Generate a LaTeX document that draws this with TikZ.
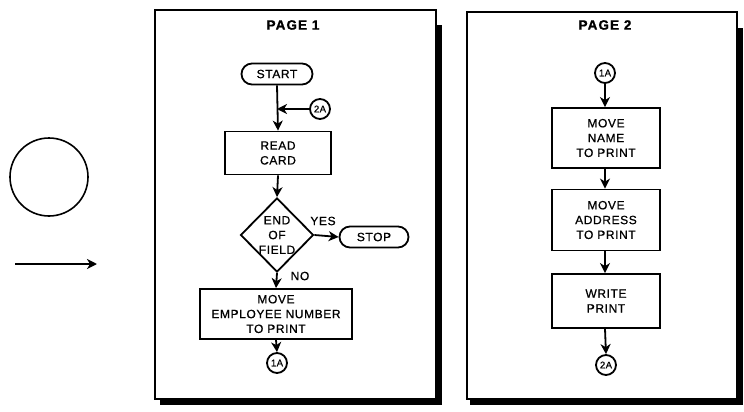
\documentclass[tikz,border=0pt]{standalone}
\usepackage{fontspec}
\setmainfont{Liberation Sans}[LetterSpace=5, FakeBold=0.8, BoldFeatures={FakeBold=1.2, LetterSpace=8}]
\usetikzlibrary{shapes.geometric,shapes.misc,arrows.meta}
\begin{document}
\begin{tikzpicture}[x=1pt,y=-1pt, line width=1.8pt,
  font=\fontsize{12}{14.8}\selectfont,
  proc/.style={draw, rectangle, align=center, inner sep=0pt, fill=white},
  term/.style={draw, rounded rectangle, inner sep=0pt, minimum height=21pt},
  conn/.style={draw, circle, minimum size=20pt, inner sep=0pt, font=\fontsize{9.5}{10}\selectfont},
  flow/.style={-{Stealth[length=10pt,width=10pt,inset=3pt]}},
  shadowbar/.style={fill=black, draw=none},
  frame/.style={draw, fill=white, line width=1.8pt},
  title/.style={font=\bfseries\fontsize{13.5}{15}\selectfont}]
\path[use as bounding box, fill=white] (0,0) rectangle (744,412);

% left legend
\node[draw, circle, minimum size=78pt, inner sep=0pt, line width=1.6pt] (legc) at (49,177) {};
\coordinate (la) at (15,264);
\coordinate (lb) at (97,264);
\draw[flow] (la) -- (lb);

% page 1 frame
\fill[shadowbar] (436,25) rectangle (442,405);
\fill[shadowbar] (160,399) rectangle (442,405);
\path[frame] (155,10) rectangle (436,399);
\node[title] (t1) at (293,25) {PAGE 1};

\node[term, minimum width=71pt] (start) at (277,74) {START};
\node[conn] (c2a) at (320,109) {2A};
\coordinate (j) at (277,109);
\node[proc, minimum width=106pt, minimum height=43pt] (read) at (278,153) {READ\\CARD};
\node[draw, diamond, minimum width=73pt, minimum height=74pt, inner sep=0pt] (dia) at (277,235) {};
\node[align=center, inner sep=0pt] (diat) at (277,235) {END\\OF\\FIELD};
\node[term, minimum width=69pt] (stop) at (374,237) {STOP};
\node[inner sep=0pt] (yes) at (323,221) {YES};
\node[inner sep=0pt] (no) at (300,276) {NO};
\node[proc, minimum width=152pt, minimum height=50pt] (emp) at (276,314) {MOVE\\EMPLOYEE NUMBER\\TO PRINT};
\node[conn] (c1a) at (277,363) {1A};

\draw[flow] (start.south) -- (read.north);
\draw[flow] (c2a.west) -- (j);
\draw[flow] (read.south) -- (dia.north);
\draw[flow] (dia.east) -- (stop.west);
\draw[flow] (dia.south) -- (emp.north);
\draw[flow] (emp.south) -- (c1a.north);

% page 2 frame
\fill[shadowbar] (737,28) rectangle (743,405);
\fill[shadowbar] (470,399) rectangle (743,405);
\path[frame] (467,12) rectangle (737,399);
\node[title] (t2) at (605,25) {PAGE 2};

\node[conn] (p1a) at (605,73) {1A};
\node[proc, minimum width=108pt, minimum height=60pt] (name) at (606,138) {MOVE\\NAME\\TO PRINT};
\node[proc, minimum width=108pt, minimum height=61pt] (addr) at (606,220) {MOVE\\ADDRESS\\TO PRINT};
\node[proc, minimum width=108pt, minimum height=54pt] (write) at (606,301) {WRITE\\PRINT};
\node[conn] (p2a) at (606,365) {2A};

\draw[flow] (p1a.south) -- (p1a.south |- name.north);
\draw[flow] (p1a.south |- name.south) -- (p1a.south |- addr.north);
\draw[flow] (p1a.south |- addr.south) -- (p1a.south |- write.north);
\draw[flow] (p1a.south |- write.south) -- (p2a.north);
\end{tikzpicture}
\end{document}
